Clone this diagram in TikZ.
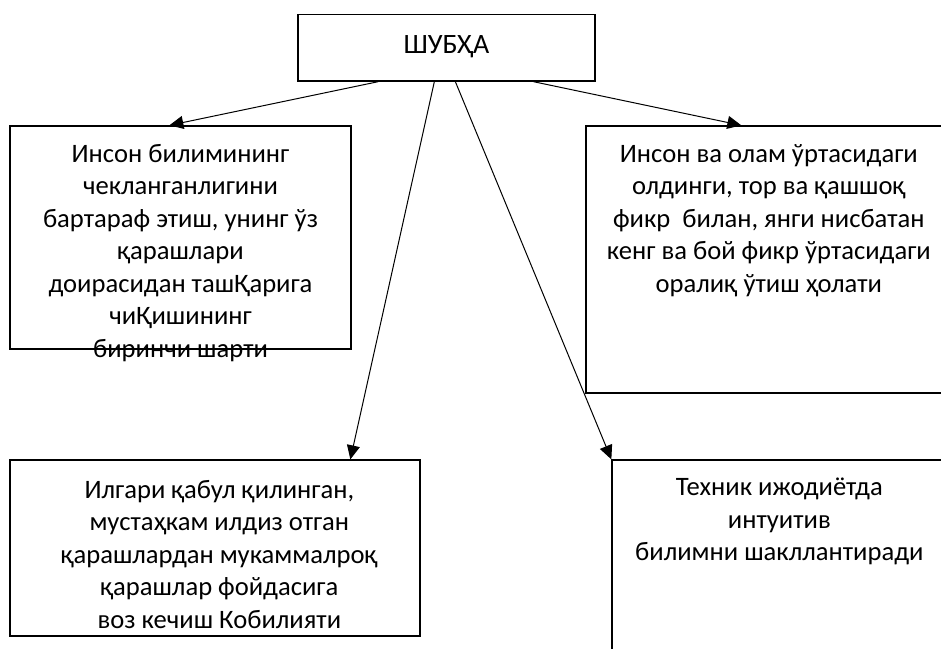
\documentclass[tikz,border=0pt]{standalone}
\usepackage{fontspec}
\setmainfont{Carlito}
\usepackage{tikz}
\usetikzlibrary{arrows.meta}

\tikzset{
  box/.style = {draw, line width=1.3pt, inner sep=0pt},
  boxtext/.style = {anchor=north, align=center, inner sep=0pt,
                    font=\fontsize{26.6}{32.5}\selectfont},
  arr/.style = {line width=1pt, -{Triangle[length=14pt,width=13pt]}}
}

\begin{document}
\begin{tikzpicture}[x=1pt, y=-1pt]
            % Frame of the page
            \useasboundingbox (0,0) rectangle (941,648);
            \clip (0,0) rectangle (941,648);

            % Top box
            \node[box, minimum width=297pt, minimum height=66.5pt] (shubha) at (446.5,47.75) {};
            \node[font=\fontsize{28}{34}\selectfont] (shubhatext) at ([yshift=1pt]shubha) {ШУБҲА};

            % Upper left box
            \node[box, minimum width=341pt, minimum height=223pt] (limit) at (180.5,237.5) {};
            \node[boxtext] (limittext) at ([yshift=-18.5pt]limit.north)
                {Инсон билимининг\\ чекланганлигини\\ бартараф этиш, унинг ўз\\ қарашлари\\
                 доирасидан ташҚарига\\ чиҚишининг\\ биринчи шарти};

            % Upper right box (runs off the page)
            \node[box, minimum width=380pt, minimum height=267pt] (transit) at (776,259.5) {};
            \node[boxtext] (transittext) at ([xshift=183.5pt, yshift=-18.5pt]transit.north west)
                {Инсон ва олам ўртасидаги\\ олдинги, тор ва қашшоқ\\ фикр\ \ билан, янги нисбатан\\
                 кенг ва бой фикр ўртасидаги\\ оралиқ ўтиш ҳолати};

            % Lower left box
            \node[box, minimum width=410pt, minimum height=176pt] (refuse) at (215,548) {};
            \node[boxtext] (refusetext) at ([xshift=210pt, yshift=-20.5pt]refuse.north west)
                {Илгари қабул қилинган,\\ мустаҳкам илдиз отган\\ қарашлардан мукаммалроқ\\
                 қарашлар фойдасига\\ воз кечиш Кобилияти};

            % Lower right box (runs off the page)
            \node[box, minimum width=380pt, minimum height=260pt] (intuit) at (802,590) {};
            \node[boxtext] (intuittext) at ([xshift=168pt, yshift=-18.5pt]intuit.north west)
                {Техник ижодиётда\\ интуитив\\ билимни шакллантиради};

            % Arrows
            \draw[arr] ([xshift=81pt]shubha.south west) -- ([xshift=160pt]limit.north west);
            \draw[arr] ([xshift=236pt]shubha.south west) -- ([xshift=156pt]transit.north west);
            \draw[arr] ([xshift=137pt]shubha.south west) -- ([xshift=341pt]refuse.north west);
            \draw[arr] ([xshift=158pt]shubha.south west) -- (intuit.north west);
\end{tikzpicture}
\end{document}
